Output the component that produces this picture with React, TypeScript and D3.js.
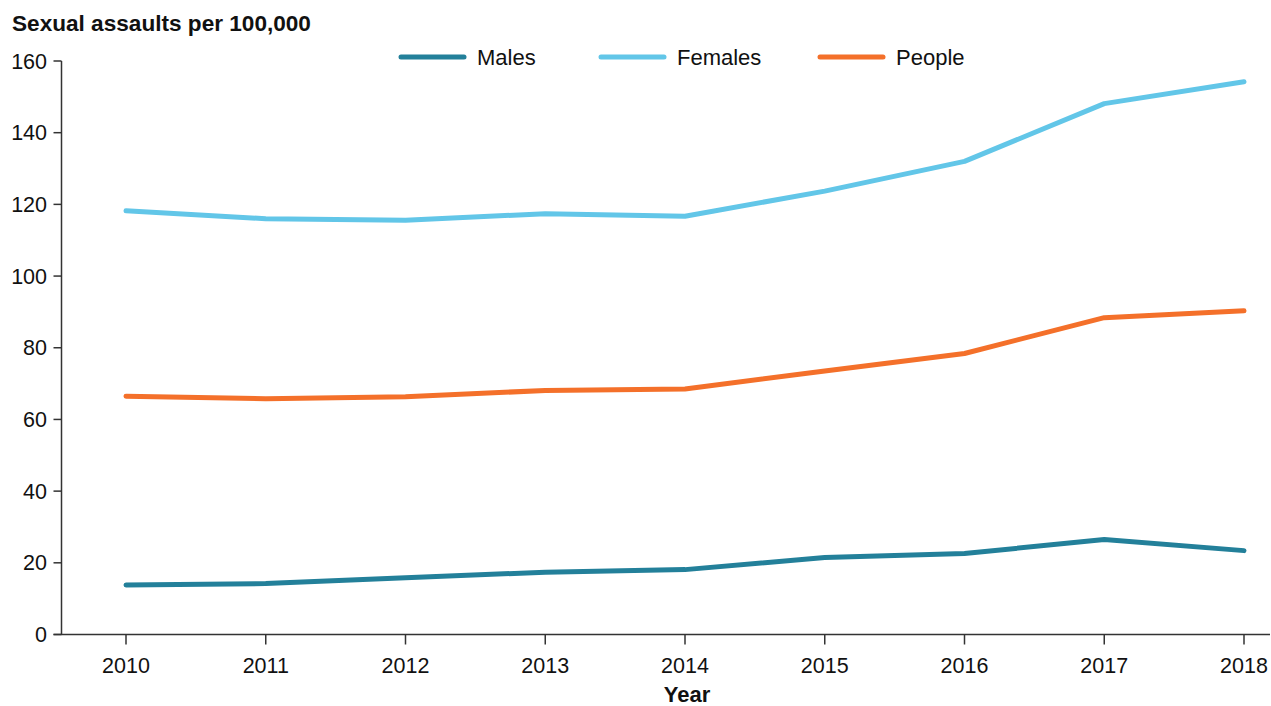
import { useEffect, useRef } from 'react';
import * as d3 from 'd3';

const years = [2010, 2011, 2012, 2013, 2014, 2015, 2016, 2017, 2018];
const males = [13.8, 14.2, 15.8, 17.4, 18.1, 21.5, 22.6, 26.5, 23.4];
const females = [118.2, 116.0, 115.6, 117.4, 116.7, 123.7, 132.0, 148.1, 154.2];
const people = [66.5, 65.8, 66.3, 68.1, 68.5, 73.5, 78.4, 88.4, 90.3];
const yTicks = [0, 20, 40, 60, 80, 100, 120, 140, 160];

const seriesNames = ['Males', 'Females', 'People'];
const seriesColors = ['#23809a', '#62c6e8', '#f4702a'];

const App = () => {
  const svgRef = useRef<SVGSVGElement>(null);

  useEffect(() => {
    if (!svgRef.current) return;
    d3.select(svgRef.current).selectAll('*').remove();

    const width = 1271;
    const height = 706;
    const font = 'Arial, "Liberation Sans", sans-serif';
    const axisColor = '#333';

    const svg = d3.select(svgRef.current).attr('width', width).attr('height', height);

    const left = 61.5;
    const right = 1270;
    const top = 61;
    const bottom = 634.5;

    const x = d3.scaleLinear().domain([2010, 2018]).range([126, 1244]);
    const y = d3.scaleLinear().domain([0, 160]).range([bottom, top]);

    // Axis title
    svg
      .append('text')
      .attr('x', 12)
      .attr('y', 31)
      .attr('font-family', font)
      .attr('font-size', '22.6px')
      .attr('font-weight', 'bold')
      .attr('fill', '#111')
      .text('Sexual assaults per 100,000');

    // Y axis
    svg
      .append('line')
      .attr('x1', left)
      .attr('x2', left)
      .attr('y1', top)
      .attr('y2', bottom)
      .attr('stroke', axisColor)
      .attr('stroke-width', 1.5);

    yTicks.forEach((t) => {
      svg
        .append('line')
        .attr('x1', left - 8)
        .attr('x2', left)
        .attr('y1', y(t))
        .attr('y2', y(t))
        .attr('stroke', axisColor)
        .attr('stroke-width', 1.5);
      svg
        .append('text')
        .attr('x', 47)
        .attr('y', y(t))
        .attr('dy', '0.35em')
        .attr('text-anchor', 'end')
        .attr('font-family', font)
        .attr('font-size', '21.5px')
        .attr('fill', '#111')
        .text(t);
    });

    // X axis
    svg
      .append('line')
      .attr('x1', left - 8)
      .attr('x2', right)
      .attr('y1', bottom)
      .attr('y2', bottom)
      .attr('stroke', axisColor)
      .attr('stroke-width', 1.5);

    years.forEach((yr) => {
      svg
        .append('line')
        .attr('x1', x(yr))
        .attr('x2', x(yr))
        .attr('y1', bottom)
        .attr('y2', bottom + 10)
        .attr('stroke', axisColor)
        .attr('stroke-width', 1.5);
      svg
        .append('text')
        .attr('x', x(yr))
        .attr('y', 673)
        .attr('text-anchor', 'middle')
        .attr('font-family', font)
        .attr('font-size', '21.5px')
        .attr('fill', '#111')
        .text(yr);
    });

    svg
      .append('text')
      .attr('x', 687)
      .attr('y', 702)
      .attr('text-anchor', 'middle')
      .attr('font-family', font)
      .attr('font-size', '22px')
      .attr('font-weight', 'bold')
      .attr('fill', '#111')
      .text('Year');

    // Lines
    const line = d3
      .line<number>()
      .x((_, i) => x(years[i]))
      .y((d) => y(d));

    [males, females, people].forEach((vals, i) => {
      svg
        .append('path')
        .datum(vals)
        .attr('d', line)
        .attr('fill', 'none')
        .attr('stroke', seriesColors[i])
        .attr('stroke-width', 5)
        .attr('stroke-linecap', 'round')
        .attr('stroke-linejoin', 'round');
    });

    // Legend
    const legendX = [401, 601, 820];
    seriesNames.forEach((name, i) => {
      const g = svg.append('g').attr('transform', `translate(${legendX[i]},57)`);
      g.append('line')
        .attr('x1', 0)
        .attr('x2', 63)
        .attr('stroke', seriesColors[i])
        .attr('stroke-width', 5)
        .attr('stroke-linecap', 'round');
      g.append('text')
        .attr('x', 76)
        .attr('dy', '0.35em')
        .attr('font-family', font)
        .attr('font-size', '22px')
        .attr('fill', '#111')
        .text(name);
    });
  }, []);

  return <svg ref={svgRef} style={{ position: 'absolute', left: 0, top: 0 }} />;
};

export default App;
